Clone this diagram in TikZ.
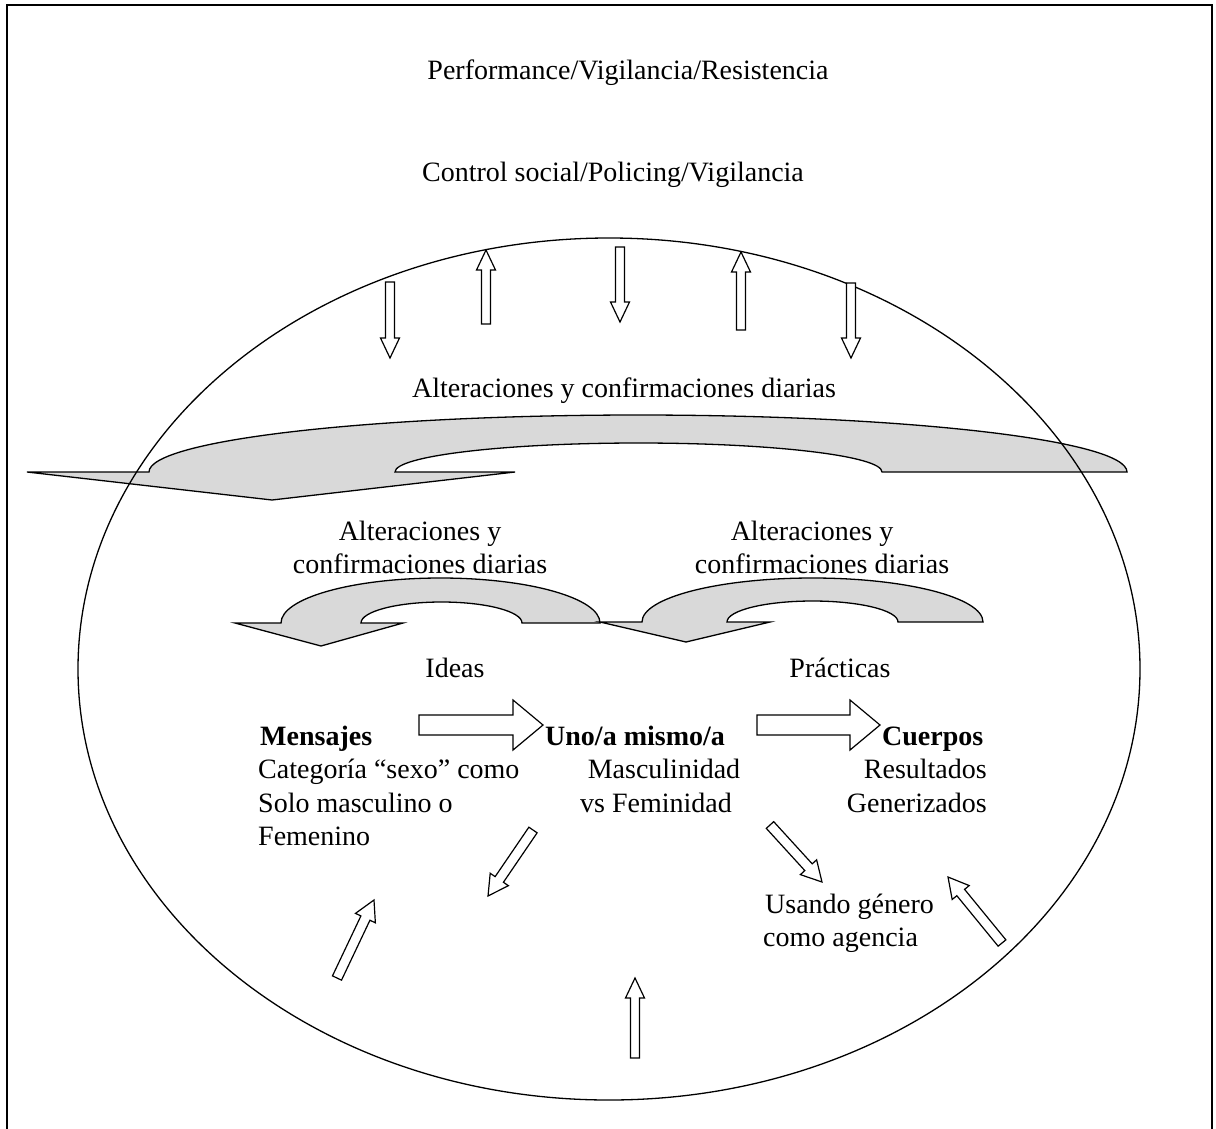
\documentclass[tikz,border=0pt]{standalone}
\usepackage{fontspec}
\setmainfont{Liberation Serif}
\usetikzlibrary{calc}
\definecolor{arrowgray}{RGB}{217,217,217}
\tikzset{
  outline/.style={draw=black, line width=1.3pt},
  blockline/.style={draw=black, fill=white, line width=1.2pt, line join=miter},
  curvedarrow/.style={draw=black, fill=arrowgray, line width=1.3pt, line join=miter},
  lbl/.style={inner sep=0pt, font=\fontsize{28}{33}\selectfont, anchor=base},
  lbll/.style={lbl, anchor=base west},
  lblr/.style={lbl, anchor=base east},
}
% block arrow: x1 y1 x2 y2 shaft-half head-half head-length
\newcommand\blockarrow[7]{%
  \pgfmathsetmacro\baang{atan2(-(#4-#2),#3-#1)}%
  \pgfmathsetmacro\balen{veclen(#3-#1,#4-#2)}%
  \pgfmathsetmacro\babase{\balen-#7}%
  \begin{scope}[shift={(#1,#2)},rotate=\baang]
    \draw[blockline] (0pt,-#5pt) -- (\babase pt,-#5pt) -- (\babase pt,-#6pt)
      -- (\balen pt,0pt) -- (\babase pt,#6pt) -- (\babase pt,#5pt) -- (0pt,#5pt) -- cycle;
  \end{scope}}
\begin{document}
\begin{tikzpicture}[x=1pt,y=-1pt]
\useasboundingbox (0,0) rectangle (1216,1128);
\fill[white] (0,0) rectangle (1216,1128);
% frame (open at bottom)
\draw[line width=1.5pt] (7,1135) -- (7,5) -- (1212,5) -- (1212,1135);

% top texts
\node[lbl] (perf) at (628,79) {Performance/Vigilancia/Resistencia};
\node[lbl] (ctrl) at (613,181) {Control social/Policing/Vigilancia};

% big curved arrow
\filldraw[curvedarrow] (27,472) -- (149,472)
  arc[start angle=180,end angle=0,x radius=489pt,y radius=57pt]
  -- (882,472)
  arc[start angle=0,end angle=180,x radius=243.5pt,y radius=29pt]
  -- (515,472) -- (272,500) -- cycle;

% small curved arrows
\filldraw[curvedarrow] (235,623) -- (281,623)
  arc[start angle=180,end angle=0,x radius=159.5pt,y radius=45pt]
  -- (522,623)
  arc[start angle=0,end angle=180,x radius=80.5pt,y radius=21pt]
  -- (403,623) -- (321,646) -- cycle;
\filldraw[curvedarrow] (600,622) -- (642,622)
  arc[start angle=180,end angle=0,x radius=170.5pt,y radius=44pt]
  -- (898,622)
  arc[start angle=0,end angle=180,x radius=85.5pt,y radius=21pt]
  -- (770,622) -- (686,642) -- cycle;

% ellipse
\draw[outline] (609,669) ellipse [x radius=531pt, y radius=431pt];

% top small arrows
\blockarrow{390}{282}{390}{358}{4.5}{9.5}{20}
\blockarrow{486}{324}{486}{250}{4.5}{9.5}{20}
\blockarrow{620}{247}{620}{322}{4.5}{9.5}{20}
\blockarrow{741}{330}{741}{252}{4.5}{9.5}{20}
\blockarrow{851}{283}{851}{358}{4.5}{9.5}{20}

% texts inside
\node[lbl] (alt) at (624,397) {Alteraciones y confirmaciones diarias};
\node[lbl] (altl1) at (420,540) {Alteraciones y};
\node[lbl] (altl2) at (420,573) {confirmaciones diarias};
\node[lbl] (altr1) at (812,540) {Alteraciones y};
\node[lbl] (altr2) at (822,573) {confirmaciones diarias};
\node[lbl] (ideas) at (455,677) {Ideas};
\node[lbl] (pract) at (840,677) {Prácticas};

\node[lbll] (mens) at (260,745) {\bfseries Mensajes};
\node[lbll] (cat) at (258,778) {Categoría “sexo” como};
\node[lbll] (solo) at (258,812) {Solo masculino o};
\node[lbll] (fem) at (258,845) {Femenino};

\node[lbll] (uno) at (545,745) {\bfseries Uno/a mismo/a};
\node[lbl] (masc) at (664,778) {Masculinidad};
\node[lbl] (vsfem) at (656,812) {vs Feminidad};

\node[lbll] (cuer) at (882,745) {\bfseries Cuerpos};
\node[lblr] (res) at (987,778) {Resultados};
\node[lblr] (gen) at (987,812) {Generizados};

\node[lbll] (usando) at (765,913) {Usando género};
\node[lbll] (como) at (763,946) {como agencia};

% horizontal block arrows
\blockarrow{419}{725}{543}{725}{10}{25}{30}
\blockarrow{757}{725}{880}{725}{10}{25}{30}

% diagonal and bottom arrows
\blockarrow{533}{830}{488}{896}{5}{11}{20}
\blockarrow{337}{978}{374}{900}{5}{11}{20}
\blockarrow{635}{1058}{635}{978}{4.5}{9.5}{20}
\blockarrow{770}{825}{822}{882}{5}{11}{20}
\blockarrow{1002}{943}{948}{877}{5}{11}{20}
\end{tikzpicture}
\end{document}
